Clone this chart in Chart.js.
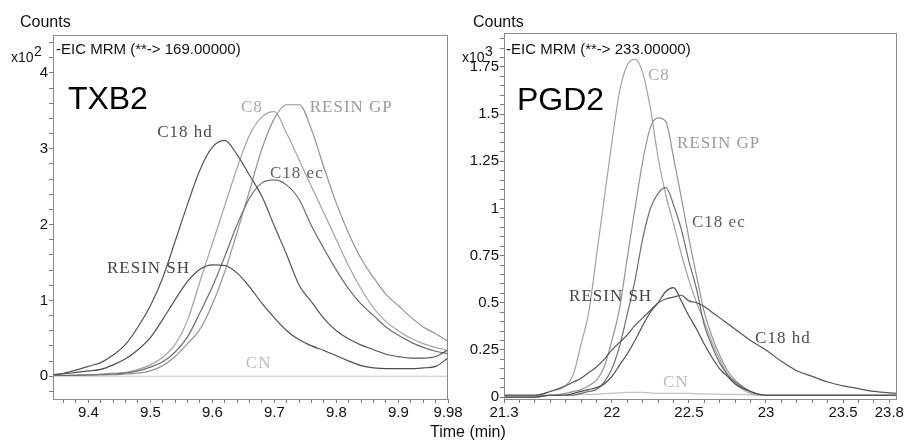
<!DOCTYPE html>
<html>
<head>
<meta charset="utf-8">
<script src="https://cdn.jsdelivr.net/npm/chart.js@4.4.0/dist/chart.umd.min.js"></script>
<style>
  body { margin: 0; background: #fff; width: 907px; height: 443px; position: relative; overflow: hidden; }
  #left { position: absolute; left: 0; top: 0; }
  #right { position: absolute; left: 453px; top: 0; }
  .time { position: absolute; left: 430px; top: 424px; font: 16px/1 "Liberation Sans", Arial, sans-serif; color: #111; }
</style>
</head>
<body>
<canvas id="left" width="470" height="443"></canvas>
<canvas id="right" width="454" height="443"></canvas>
<div class="time">Time (min)</div>
<script>
// TXB2 panel (x10^2 counts)
const txb2_time = [9.34, 9.36, 9.38, 9.40, 9.42, 9.44, 9.46, 9.48, 9.50, 9.52, 9.54, 9.56, 9.58, 9.60, 9.62, 9.64, 9.66,
  9.68, 9.70, 9.72, 9.74, 9.76, 9.78, 9.80, 9.82, 9.84, 9.86, 9.88, 9.90, 9.92, 9.94, 9.96, 9.98];
const txb2_c18hd = [0.02, 0.04, 0.08, 0.13, 0.18, 0.28, 0.42, 0.65, 0.93, 1.30, 1.78, 2.27, 2.72, 3.02, 3.11, 2.92, 2.65,
  2.37, 1.98, 1.60, 1.20, 0.98, 0.76, 0.60, 0.49, 0.41, 0.35, 0.29, 0.26, 0.24, 0.24, 0.26, 0.35];
const txb2_resinsh = [0.02, 0.03, 0.05, 0.07, 0.09, 0.15, 0.23, 0.35, 0.51, 0.75, 1.01, 1.25, 1.41, 1.47, 1.46, 1.36, 1.18,
  0.96, 0.77, 0.60, 0.48, 0.40, 0.34, 0.27, 0.20, 0.14, 0.11, 0.10, 0.10, 0.10, 0.11, 0.13, 0.24];
const txb2_c18ec = [0.01, 0.01, 0.01, 0.02, 0.02, 0.03, 0.04, 0.07, 0.12, 0.19, 0.32, 0.52, 0.84, 1.18, 1.58, 2.00, 2.35,
  2.55, 2.59, 2.52, 2.33, 1.98, 1.68, 1.40, 1.15, 0.95, 0.80, 0.65, 0.54, 0.45, 0.38, 0.33, 0.30];
const txb2_c8 = [0.01, 0.01, 0.02, 0.02, 0.03, 0.04, 0.05, 0.09, 0.15, 0.25, 0.42, 0.74, 1.25, 1.75, 2.25, 2.75, 3.18,
  3.42, 3.49, 3.20, 2.85, 2.50, 2.15, 1.80, 1.45, 1.15, 0.90, 0.72, 0.60, 0.50, 0.43, 0.38, 0.34];
const txb2_resingp = [0.01, 0.01, 0.01, 0.01, 0.02, 0.02, 0.03, 0.04, 0.07, 0.14, 0.26, 0.43, 0.62, 0.95, 1.38, 1.90, 2.45,
  3.00, 3.40, 3.58, 3.58, 3.25, 2.75, 2.28, 1.88, 1.55, 1.30, 1.08, 0.93, 0.78, 0.65, 0.56, 0.46];
const txb2_cn = [0, 0, 0, 0, 0, 0, 0, 0, 0, 0, 0, 0, 0, 0, 0, 0, 0, 0, 0, 0, 0, 0, 0, 0, 0, 0, 0, 0, 0, 0, 0, 0, 0];
const txb2_xticks = [9.4, 9.5, 9.6, 9.7, 9.8, 9.9, 9.98];
const txb2_yticks = [0, 1, 2, 3, 4];

// PGD2 panel (x10^3 counts)
const pgd2_time = [21.3, 21.5, 21.6, 21.7, 21.75, 21.8, 21.85, 21.9, 21.95, 22.0, 22.05, 22.1, 22.15, 22.2, 22.25, 22.3,
  22.35, 22.4, 22.45, 22.5, 22.55, 22.6, 22.65, 22.7, 22.75, 22.8, 22.9, 23.0, 23.1, 23.2, 23.3, 23.4, 23.5, 23.6, 23.7, 23.85];
const pgd2_c18hd = [0.01, 0.01, 0.03, 0.06, 0.08, 0.10, 0.13, 0.16, 0.20, 0.25, 0.29, 0.33, 0.38, 0.42, 0.46, 0.50,
  0.52, 0.53, 0.54, 0.51, 0.50, 0.48, 0.45, 0.42, 0.39, 0.36, 0.30, 0.25, 0.19, 0.14, 0.11, 0.08, 0.06, 0.045, 0.03, 0.02];
const pgd2_resinsh = [0, 0, 0.01, 0.01, 0.02, 0.03, 0.04, 0.05, 0.07, 0.11, 0.17, 0.23, 0.30, 0.38, 0.45, 0.50,
  0.56, 0.58, 0.51, 0.43, 0.36, 0.28, 0.21, 0.15, 0.11, 0.07, 0.03, 0.01, 0.01, 0.01, 0.01, 0.01, 0.01, 0.01, 0.01, 0.01];
const pgd2_c18ec = [0, 0, 0.01, 0.01, 0.01, 0.02, 0.03, 0.04, 0.08, 0.15, 0.27, 0.44, 0.62, 0.84, 1.00, 1.08,
  1.11, 1.02, 0.89, 0.72, 0.57, 0.38, 0.27, 0.18, 0.12, 0.08, 0.03, 0.01, 0.01, 0.01, 0.01, 0.01, 0.01, 0.01, 0.01, 0.01];
const pgd2_c8 = [0.01, 0.01, 0.03, 0.06, 0.12, 0.28, 0.45, 0.75, 1.05, 1.35, 1.62, 1.76, 1.79, 1.72, 1.53, 1.27,
  1.07, 0.92, 0.76, 0.62, 0.50, 0.40, 0.29, 0.20, 0.12, 0.07, 0.02, 0.01, 0.01, 0.01, 0.01, 0.01, 0.01, 0.01, 0.01, 0.01];
const pgd2_resingp = [0.01, 0.01, 0.01, 0.02, 0.03, 0.04, 0.06, 0.09, 0.16, 0.30, 0.47, 0.74, 1.00, 1.25, 1.43, 1.48,
  1.46, 1.27, 1.06, 0.84, 0.64, 0.45, 0.32, 0.22, 0.14, 0.09, 0.03, 0.01, 0.01, 0.01, 0.01, 0.01, 0.01, 0.01, 0.01, 0.01];
const pgd2_cn = [0.01, 0.01, 0.01, 0.012, 0.013, 0.014, 0.015, 0.015, 0.018, 0.02, 0.022, 0.025, 0.025, 0.025, 0.022, 0.02,
  0.02, 0.02, 0.02, 0.02, 0.018, 0.017, 0.016, 0.015, 0.015, 0.015, 0.012, 0.01, 0.01, 0.01, 0.01, 0.01, 0.01, 0.01, 0.01, 0.01];
const pgd2_xticks = [21.3, 22, 22.5, 23, 23.5, 23.8];
const pgd2_yticks = [0, 0.25, 0.5, 0.75, 1, 1.25, 1.5, 1.75];

const SANS = '"Liberation Sans", Arial, sans-serif';
const SERIF = '"Liberation Serif", "Times New Roman", serif';

// line colours per sample
const colors = {
  c18hd: '#555555', resinsh: '#4f4f4f', c18ec: '#6e6e6e',
  c8: '#a2a2a2', resingp: '#939393', cn: '#c2c2c2'
};

function series(xs, ys, color) {
  return {
    data: xs.map((x, i) => ({ x: x, y: ys[i] })),
    borderColor: color,
    borderWidth: 1.2,
    pointRadius: 0,
    fill: false,
    cubicInterpolationMode: 'monotone'
  };
}

function tickValues(from, to, step) {
  const out = [];
  for (let v = from; v <= to + step / 2; v += step) out.push({ value: Math.round(v * 1000) / 1000 });
  return out;
}

function tickLabel(majors) {
  return v => {
    const m = majors.find(t => Math.abs(t - v) < 1e-6);
    return m === undefined ? '' : String(m);
  };
}

// box, headers and peak names
const panelText = {
  id: 'panelText',
  afterDraw(chart, args, o) {
    const { ctx, chartArea: a, scales: { x, y } } = chart;
    ctx.save();
    ctx.strokeStyle = '#8a8a8a';
    ctx.lineWidth = 1;
    ctx.strokeRect(a.left + 0.5, a.top + 0.5, a.right - a.left - 1, a.bottom - a.top);

    ctx.fillStyle = '#111';
    ctx.textBaseline = 'alphabetic';
    ctx.font = '16px ' + SANS;
    ctx.fillText('Counts', 20, 27);
    ctx.font = '14px ' + SANS;
    ctx.fillText('x10', o.expX, 62);
    ctx.fillText(o.exponent, o.expX + 23, 56);
    ctx.font = '15px ' + SANS;
    ctx.fillText(o.header, o.headerX, 54);

    ctx.font = '32px ' + SANS;
    ctx.fillStyle = '#000';
    ctx.fillText(o.name, x.getPixelForValue(o.nameAt[0]), y.getPixelForValue(o.nameAt[1]));

    ctx.font = '17px ' + SERIF;
    ctx.letterSpacing = '1px';
    o.peaks.forEach(p => {
      ctx.fillStyle = p.color;
      ctx.fillText(p.text, x.getPixelForValue(p.x), y.getPixelForValue(p.y));
    });
    ctx.restore();
  }
};

function makeChart(id, cfg) {
  return new Chart(document.getElementById(id), {
    type: 'line',
    data: { datasets: cfg.datasets },
    options: {
      responsive: false,
      animation: false,
      devicePixelRatio: 1,
      layout: { padding: { top: cfg.top, right: cfg.right, left: 0, bottom: 0 } },
      plugins: {
        legend: { display: false },
        tooltip: { enabled: false },
        panelText: cfg.text
      },
      scales: {
        x: {
          type: 'linear',
          min: cfg.xmin,
          max: cfg.xmax,
          afterBuildTicks: s => { s.ticks = cfg.xminor; },
          afterFit: s => { s.height = 44; },
          ticks: { autoSkip: false, maxRotation: 0, padding: 1, color: '#111', font: { size: 15, family: SANS }, callback: tickLabel(cfg.xmajor) },
          grid: { drawOnChartArea: false, tickLength: 4, tickColor: '#7a7a7a' },
          border: { display: false }
        },
        y: {
          min: cfg.ymin,
          max: cfg.ymax,
          afterBuildTicks: s => { s.ticks = cfg.yminor; },
          afterFit: s => { s.width = cfg.yWidth; },
          ticks: { autoSkip: false, padding: 1, color: '#111', font: { size: 15, family: SANS }, callback: tickLabel(cfg.ymajor) },
          grid: { drawOnChartArea: false, tickLength: 4, tickColor: '#7a7a7a' },
          border: { display: false }
        }
      }
    },
    plugins: [panelText]
  });
}

makeChart('left', {
  top: 35, right: 22, yWidth: 53,
  xmin: 9.343, xmax: 9.98, ymin: -0.30, ymax: 4.5,
  xminor: tickValues(9.36, 9.98, 0.02), xmajor: txb2_xticks,
  yminor: tickValues(-0.2, 4.4, 0.2), ymajor: txb2_yticks,
  datasets: [
    series(txb2_time, txb2_c18hd, colors.c18hd),
    series(txb2_time, txb2_resinsh, colors.resinsh),
    series(txb2_time, txb2_c18ec, colors.c18ec),
    series(txb2_time, txb2_c8, colors.c8),
    series(txb2_time, txb2_resingp, colors.resingp),
    series(txb2_time, txb2_cn, colors.cn)
  ],
  text: {
    expX: 11, exponent: '2', headerX: 56, header: '-EIC MRM (**-> 169.00000)',
    name: 'TXB2', nameAt: [9.367, 3.52],
    peaks: [
      { text: 'C8', x: 9.646, y: 3.48, color: '#a8a8a8' },
      { text: 'RESIN GP', x: 9.757, y: 3.48, color: '#9a9a9a' },
      { text: 'C18 hd', x: 9.511, y: 3.16, color: '#4a4a4a' },
      { text: 'C18 ec', x: 9.693, y: 2.61, color: '#5e5e5e' },
      { text: 'RESIN SH', x: 9.430, y: 1.36, color: '#444444' },
      { text: 'CN', x: 9.654, y: 0.11, color: '#bbbbbb' }
    ]
  }
});

makeChart('right', {
  top: 33, right: 10, yWidth: 51,
  xmin: 21.3, xmax: 23.85, ymin: -0.01, ymax: 1.93,
  xminor: tickValues(21.3, 23.8, 0.1), xmajor: pgd2_xticks,
  yminor: tickValues(0, 1.9, 0.05), ymajor: pgd2_yticks,
  datasets: [
    series(pgd2_time, pgd2_c18hd, colors.c18hd),
    series(pgd2_time, pgd2_resinsh, colors.resinsh),
    series(pgd2_time, pgd2_c18ec, colors.c18ec),
    series(pgd2_time, pgd2_c8, colors.c8),
    series(pgd2_time, pgd2_resingp, colors.resingp),
    series(pgd2_time, pgd2_cn, colors.cn)
  ],
  text: {
    expX: 9, exponent: '3', headerX: 53, header: '-EIC MRM (**-> 233.00000)',
    name: 'PGD2', nameAt: [21.384, 1.52],
    peaks: [
      { text: 'C8', x: 22.234, y: 1.68, color: '#a8a8a8' },
      { text: 'RESIN GP', x: 22.423, y: 1.32, color: '#9a9a9a' },
      { text: 'C18 ec', x: 22.52, y: 0.90, color: '#5e5e5e' },
      { text: 'RESIN SH', x: 21.722, y: 0.51, color: '#444444' },
      { text: 'C18 hd', x: 22.929, y: 0.285, color: '#4a4a4a' },
      { text: 'CN', x: 22.332, y: 0.054, color: '#bbbbbb' }
    ]
  }
});
</script>
</body>
</html>
